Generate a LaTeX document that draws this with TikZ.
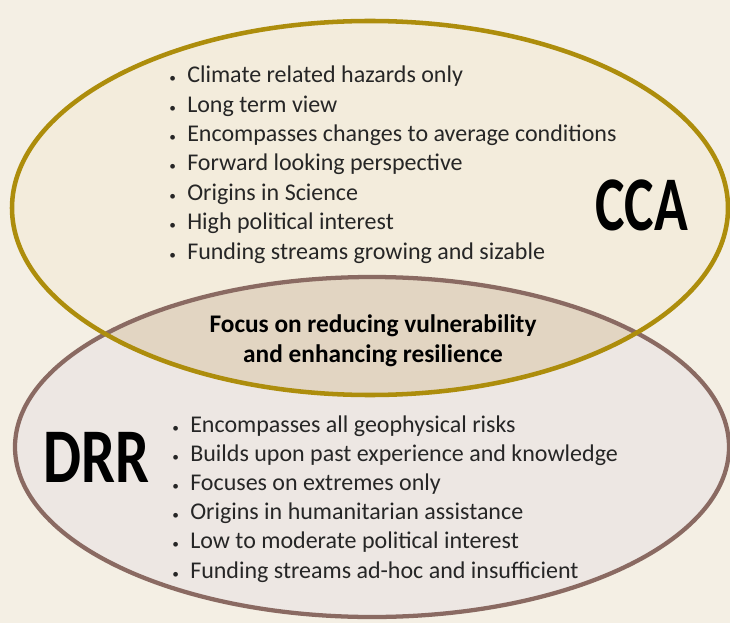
\documentclass[tikz,border=0pt]{standalone}
\usepackage{fontspec}
\usepackage{graphicx}
\setmainfont{Carlito}
\newfontfamily\listfont{Carlito}
\definecolor{paper}{HTML}{F4EFE4}
\definecolor{ccafill}{HTML}{F3ECDC}
\definecolor{ccaline}{HTML}{AD8D0C}
\definecolor{drrfill}{HTML}{EDE7E3}
\definecolor{drrline}{HTML}{8A6A62}
\definecolor{bothfill}{HTML}{E2D5C2}
\newcommand{\bul}{\makebox[13.5pt][l]{\fontsize{10}{10}\selectfont\textbullet}}
\newcommand{\narrow}[2]{\scalebox{#1}[1]{#2}}
\tikzset{
  item/.style={anchor=base west, inner sep=0pt, text=black!85,
    text height=12pt, text depth=3.5pt,
    font=\listfont\fontsize{18}{18}\selectfont},
  tag/.style={anchor=base west, inner sep=0pt,
    font=\listfont\bfseries\fontsize{58}{58}\selectfont},
  shared/.style={anchor=base, inner sep=0pt,
    font=\listfont\bfseries\fontsize{19}{19}\selectfont}
}

\begin{document}
\begin{tikzpicture}[x=0.75pt,y=-0.75pt]
\fill[paper] (0,0) rectangle (730,623);
\useasboundingbox (0,0) rectangle (730,623);
\coordinate (cca) at (370,208);
\coordinate (drr) at (372,447);
% the two circles
\fill[ccafill] (cca) ellipse [x radius=358, y radius=187];
\fill[drrfill] (drr) ellipse [x radius=357, y radius=170];
\begin{scope}
\clip (cca) ellipse [x radius=358, y radius=187];
\fill[bothfill] (drr) ellipse [x radius=357, y radius=170];
\end{scope}
\draw[drrline,line width=3.2pt] (drr) ellipse [x radius=357, y radius=170];
\draw[ccaline,line width=3.4pt] (cca) ellipse [x radius=358, y radius=187];
% CCA side
\node[tag] (CCA) at (595,231) {\narrow{0.72}{CCA}};
\node[item] (c1) at (169,83) {\bul Climate related hazards only};
\node[item] (c2) at (169,112.3) {\bul Long term view};
\node[item] (c3) at (169,141.6) {\bul Encompasses changes to average conditions};
\node[item] (c4) at (169,171) {\bul Forward looking perspective};
\node[item] (c5) at (169,200.3) {\bul Origins in Science};
\node[item] (c6) at (169,229.6) {\bul High political interest};
\node[item] (c7) at (169,259) {\bul Funding streams growing and sizable};
% overlap
\node[shared] (s1) at (373,332) {Focus on reducing vulnerability};
\node[shared] (s2) at (373,362) {and enhancing resilience};
% DRR side
\node[tag] (DRR) at (43,482) {\narrow{0.78}{DRR}};
\node[item] (d1) at (172,432) {\bul Encompasses all geophysical risks};
\node[item] (d2) at (172,461.2) {\bul Builds upon past experience and knowledge};
\node[item] (d3) at (172,490.4) {\bul Focuses on extremes only};
\node[item] (d4) at (172,519.6) {\bul Origins in humanitarian assistance};
\node[item] (d5) at (172,548.8) {\bul Low to moderate political interest};
\node[item] (d6) at (172,578) {\bul Funding streams ad-hoc and insufficient};
\end{tikzpicture}
\end{document}
